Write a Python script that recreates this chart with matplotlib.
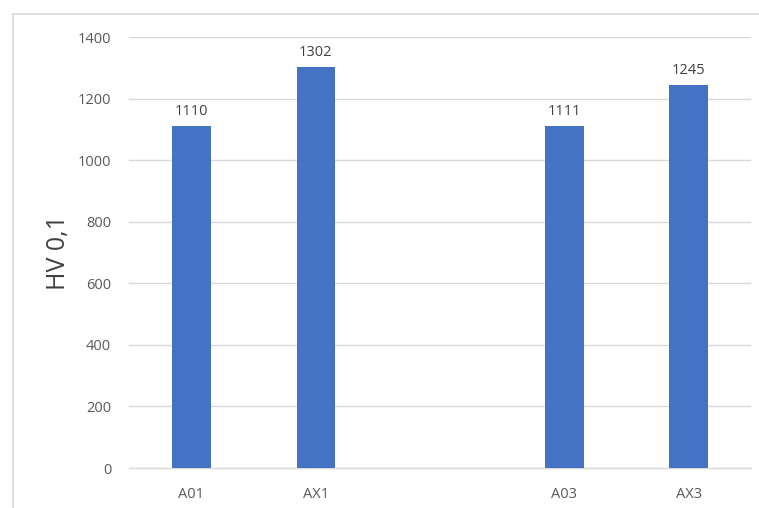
import matplotlib
matplotlib.use("Agg")
import matplotlib.pyplot as plt
from matplotlib.lines import Line2D

categories = ["A01", "AX1", "", "A03", "AX3"]
values = [1110, 1302, None, 1111, 1245]
y_ticks = [0, 200, 400, 600, 800, 1000, 1200, 1400]
y_label = "HV 0,1"

plt.rcParams["font.family"] = ["Open Sans", "DejaVu Sans"]

fig = plt.figure(figsize=(7.59, 5.08), dpi=100)
fig.patch.set_facecolor("white")

# outer chart frame: left and top edges
W, H = 759, 508
fx, fy = 12.5 / W, 1 - 14 / H
fig.add_artist(Line2D([fx, fx], [0, fy], transform=fig.transFigure,
                      color="#d9d9d9", linewidth=1.2))
fig.add_artist(Line2D([fx, 1], [fy, fy], transform=fig.transFigure,
                      color="#d9d9d9", linewidth=1.2))

ax = fig.add_axes([129.3 / W, 1 - 468 / H, 621.6 / W, 431 / H])

xs = list(range(len(categories)))
bar_x = [x for x, v in zip(xs, values) if v is not None]
bar_v = [v for v in values if v is not None]
bars = ax.bar(bar_x, bar_v, width=0.31, color="#4472C4", zorder=3)

for x, v in zip(bar_x, bar_v):
    ax.annotate(f"{v}", xy=(x, v), xytext=(0, 5), textcoords="offset points",
                ha="center", va="bottom", fontsize=10.5, color="#404040")

ax.set_xlim(-0.5, len(categories) - 0.5)
ax.set_ylim(0, 1400)
ax.set_yticks(y_ticks)
ax.set_yticklabels([str(t) for t in y_ticks])
ax.set_xticks(xs)
ax.set_xticklabels(categories)

ax.grid(axis="y", color="#d9d9d9", linewidth=1, zorder=0)
ax.set_axisbelow(True)
for side in ["left", "right", "top"]:
    ax.spines[side].set_visible(False)
ax.spines["bottom"].set_color("#d9d9d9")
ax.spines["bottom"].set_linewidth(1)

ax.tick_params(axis="both", length=0, labelsize=10.5, labelcolor="#595959")
ax.tick_params(axis="y", pad=13)
ax.tick_params(axis="x", pad=14)

ax.set_ylabel(y_label, fontsize=18, color="#404040", labelpad=5)

fig.savefig("out.png", dpi=100)
